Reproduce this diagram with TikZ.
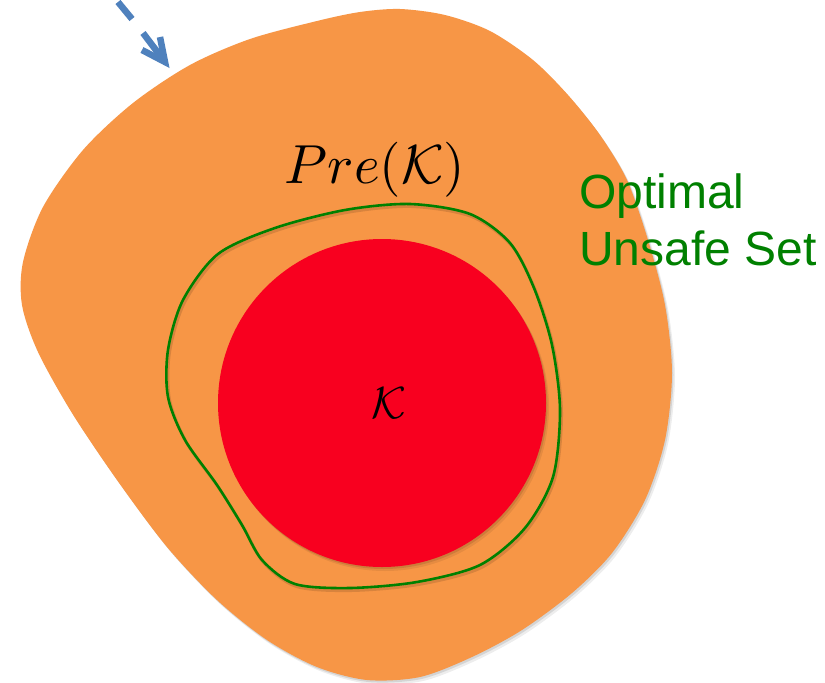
\documentclass[tikz,border=0pt]{standalone}
\usepackage{fontspec}
\newfontfamily\arialfont{Liberation Sans}
\definecolor{blobOrange}{HTML}{F79646}
\definecolor{kRed}{HTML}{F8001F}
\definecolor{preGreen}{HTML}{008000}
\definecolor{arrowBlue}{HTML}{4F81BD}
\begin{document}
\begin{tikzpicture}[x=1pt,y=-1pt,
  shadowA/.style={black,opacity=0.10},
  shadowB/.style={black,opacity=0.07},
  mathlabel/.style={inner sep=0pt,text=black},
  greenlabel/.style={inner sep=0pt,text=preGreen,align=left,font=\arialfont\fontsize{48}{57}\selectfont},
  arrowseg/.style={arrowBlue,line width=6.5pt},
]
\useasboundingbox (0,0) rectangle (825,683);
\fill[white] (0,0) rectangle (825,683);

\def\blobpath{(400,9) (445,15) (490,31) (533,60) (568,95) (600,135) (627,180) (648,240) (665,305) (672,373) (665,440) (645,500) (612,553) (572,593) (522,630) (472,657) (420,677) (367,680) (317,667) (267,640) (217,600) (167,547) (117,480) (72,413) (38,352) (22,305) (23,262) (43,207) (83,150) (133,103) (190,65) (250,39) (317,21) (360,12)}
\def\prepath{(410,204) (470,214) (510,243) (534,288) (552,345) (560,410) (553,477) (525,528) (480,565) (417,582) (350,588) (295,584) (262,560) (242,525) (217,485) (185,440) (168,397) (168,350) (183,300) (218,254) (275,228) (345,210)}

% orange blob (optimal unsafe set)
\fill[shadowB] plot[smooth cycle, shift={(3,4)}] coordinates {\blobpath};
\fill[shadowA] plot[smooth cycle, shift={(1.5,2)}] coordinates {\blobpath};
\fill[blobOrange] plot[smooth cycle] coordinates {\blobpath};

% Pre(K) boundary
\draw[black,opacity=0.12,line width=3pt] plot[smooth cycle, shift={(1.5,2.5)}] coordinates {\prepath};
\draw[preGreen,line width=2.6pt] plot[smooth cycle] coordinates {\prepath};

% K set
\fill[shadowB] (385,407) circle (164);
\fill[shadowA] (383.5,405) circle (164);
\fill[kRed] (382,403) circle (164);

% labels
\node[mathlabel,scale=5.5,anchor=base] (pre) at (375,183) {$Pre(\mathcal{K})$};
\node[mathlabel,scale=4.5,anchor=base] (k) at (389,418) {$\mathcal{K}$};
\node[greenlabel,anchor=base west] (ous) at (579,265) {Optimal\\Unsafe Set};

% dashed arrow
\coordinate (a0) at (118,2);
\coordinate (a1) at (132,19);
\coordinate (a2) at (143,33);
\coordinate (tip) at (165,62);
\coordinate (barbL) at (142,50);
\coordinate (barbR) at (160,37);
\draw[arrowseg] (a0) -- (a1);
\draw[arrowseg] (a2) -- (tip);
\draw[arrowseg,line join=miter] (barbL) -- (tip) -- (barbR);
\end{tikzpicture}
\end{document}
